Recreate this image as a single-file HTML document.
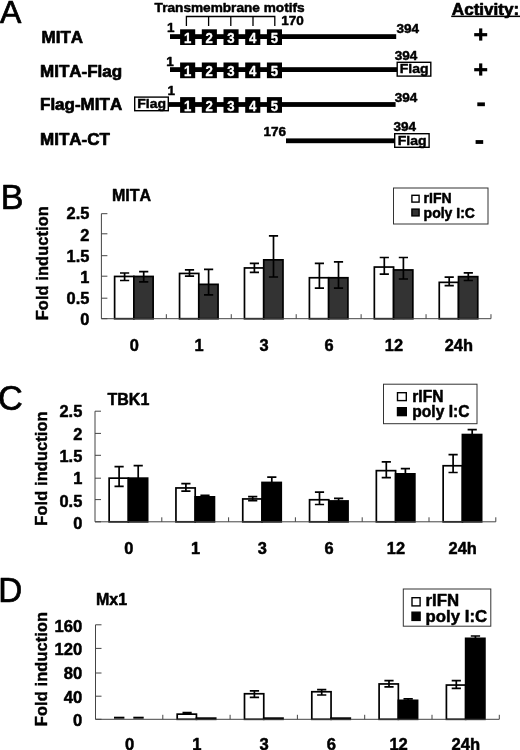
<!DOCTYPE html>
<html lang="en">
<head>
<meta charset="utf-8">
<title>MITA constructs and fold induction</title>
<style>
html,body{margin:0;padding:0;background:#fff;}
body{width:520px;height:750px;overflow:hidden;}
svg{display:block;font-family:"Liberation Sans", Arial, Helvetica, sans-serif;filter:blur(0.35px);}
text{font-family:"Liberation Sans", Arial, Helvetica, sans-serif;}
</style>
</head>
<body>
<svg width="520" height="750" viewBox="0 0 520 750">
<rect x="0" y="0" width="520" height="750" fill="#fff"/>
<text transform="translate(0.1 23.0) scale(1.0 1)" font-size="32" font-weight="normal" fill="#000" stroke="#000" stroke-width="0.7" stroke-linejoin="round">A</text>
<text x="451.8" y="14.7" font-size="17.1" font-weight="bold" fill="#000" stroke="#000" stroke-width="0.7" stroke-linejoin="round">Activity:</text>
<rect x="451.2" y="15.6" width="68.8" height="1.5" fill="#000"/>
<text x="154.6" y="12.0" font-size="13.2" font-weight="bold" text-anchor="start" fill="#000" stroke="#000" stroke-width="0.5" stroke-linejoin="round" textLength="150" lengthAdjust="spacingAndGlyphs">Transmembrane motifs</text>
<path d="M186.4 26 V16.5 H274.8 V26 M208.6 16.5 V26 M230.8 16.5 V26 M253 16.5 V26" fill="none" stroke="#000" stroke-width="1.3"/>
<text x="281.2" y="24.6" font-size="13.5" font-weight="bold" text-anchor="start" fill="#000" stroke="#000" stroke-width="0.5" stroke-linejoin="round" >170</text>
<text x="41.5" y="43.4" font-size="17" font-weight="bold" fill="#000" stroke="#000" stroke-width="0.7" stroke-linejoin="round" style="font-kerning:none">MITA</text>
<text x="40" y="76.5" font-size="17" font-weight="bold" fill="#000" stroke="#000" stroke-width="0.7" stroke-linejoin="round" style="font-kerning:none">MITA-Flag</text>
<text x="40" y="109.6" font-size="17" font-weight="bold" fill="#000" stroke="#000" stroke-width="0.7" stroke-linejoin="round" style="font-kerning:none">Flag-MITA</text>
<text x="40" y="144.6" font-size="17" font-weight="bold" fill="#000" stroke="#000" stroke-width="0.7" stroke-linejoin="round" style="font-kerning:none">MITA-CT</text>
<rect x="170" y="34.2" width="226.2" height="4.8" fill="#000"/>
<rect x="180.1" y="29.3" width="15.1" height="15.7" fill="#000"/>
<text transform="translate(187.6 43.1) scale(1.0 1.13)" font-size="13.2" font-weight="bold" text-anchor="middle" fill="#fff" stroke="#fff" stroke-width="0.3" stroke-linejoin="round">1</text>
<rect x="201.8" y="29.3" width="15.1" height="15.7" fill="#000"/>
<text transform="translate(209.3 43.1) scale(1.0 1.13)" font-size="13.2" font-weight="bold" text-anchor="middle" fill="#fff" stroke="#fff" stroke-width="0.3" stroke-linejoin="round">2</text>
<rect x="223.5" y="29.3" width="15.1" height="15.7" fill="#000"/>
<text transform="translate(231.0 43.1) scale(1.0 1.13)" font-size="13.2" font-weight="bold" text-anchor="middle" fill="#fff" stroke="#fff" stroke-width="0.3" stroke-linejoin="round">3</text>
<rect x="245.2" y="29.3" width="15.1" height="15.7" fill="#000"/>
<text transform="translate(252.7 43.1) scale(1.0 1.13)" font-size="13.2" font-weight="bold" text-anchor="middle" fill="#fff" stroke="#fff" stroke-width="0.3" stroke-linejoin="round">4</text>
<rect x="266.9" y="29.3" width="15.1" height="15.7" fill="#000"/>
<text transform="translate(274.4 43.1) scale(1.0 1.13)" font-size="13.2" font-weight="bold" text-anchor="middle" fill="#fff" stroke="#fff" stroke-width="0.3" stroke-linejoin="round">5</text>
<text x="167" y="32.4" font-size="13.5" font-weight="bold" text-anchor="start" fill="#000" stroke="#000" stroke-width="0.5" stroke-linejoin="round" >1</text>
<text x="396.5" y="32.8" font-size="13.5" font-weight="bold" text-anchor="start" fill="#000" stroke="#000" stroke-width="0.5" stroke-linejoin="round" >394</text>
<rect x="170" y="67.2" width="227.0" height="4.8" fill="#000"/>
<rect x="180.1" y="62.5" width="15.1" height="15.7" fill="#000"/>
<text transform="translate(187.6 76.3) scale(1.0 1.13)" font-size="13.2" font-weight="bold" text-anchor="middle" fill="#fff" stroke="#fff" stroke-width="0.3" stroke-linejoin="round">1</text>
<rect x="201.8" y="62.5" width="15.1" height="15.7" fill="#000"/>
<text transform="translate(209.3 76.3) scale(1.0 1.13)" font-size="13.2" font-weight="bold" text-anchor="middle" fill="#fff" stroke="#fff" stroke-width="0.3" stroke-linejoin="round">2</text>
<rect x="223.5" y="62.5" width="15.1" height="15.7" fill="#000"/>
<text transform="translate(231.0 76.3) scale(1.0 1.13)" font-size="13.2" font-weight="bold" text-anchor="middle" fill="#fff" stroke="#fff" stroke-width="0.3" stroke-linejoin="round">3</text>
<rect x="245.2" y="62.5" width="15.1" height="15.7" fill="#000"/>
<text transform="translate(252.7 76.3) scale(1.0 1.13)" font-size="13.2" font-weight="bold" text-anchor="middle" fill="#fff" stroke="#fff" stroke-width="0.3" stroke-linejoin="round">4</text>
<rect x="266.9" y="62.5" width="15.1" height="15.7" fill="#000"/>
<text transform="translate(274.4 76.3) scale(1.0 1.13)" font-size="13.2" font-weight="bold" text-anchor="middle" fill="#fff" stroke="#fff" stroke-width="0.3" stroke-linejoin="round">5</text>
<text x="166.2" y="65.8" font-size="13.5" font-weight="bold" text-anchor="start" fill="#000" stroke="#000" stroke-width="0.5" stroke-linejoin="round" >1</text>
<text x="394.8" y="59.8" font-size="13.5" font-weight="bold" text-anchor="start" fill="#000" stroke="#000" stroke-width="0.5" stroke-linejoin="round" >394</text>
<rect x="397.2" y="62.300000000000004" width="33.6" height="13.799999999999999" fill="#fff" stroke="#000" stroke-width="1.4"/>
<text transform="translate(414.2 73.4) scale(1.04 1)" font-size="13.5" font-weight="bold" text-anchor="middle" fill="#000" stroke="#000" stroke-width="0.45">Flag</text>
<rect x="168.5" y="102.1" width="227.1" height="4.8" fill="#000"/>
<rect x="180.1" y="97.1" width="15.1" height="15.7" fill="#000"/>
<text transform="translate(187.6 110.9) scale(1.0 1.13)" font-size="13.2" font-weight="bold" text-anchor="middle" fill="#fff" stroke="#fff" stroke-width="0.3" stroke-linejoin="round">1</text>
<rect x="201.8" y="97.1" width="15.1" height="15.7" fill="#000"/>
<text transform="translate(209.3 110.9) scale(1.0 1.13)" font-size="13.2" font-weight="bold" text-anchor="middle" fill="#fff" stroke="#fff" stroke-width="0.3" stroke-linejoin="round">2</text>
<rect x="223.5" y="97.1" width="15.1" height="15.7" fill="#000"/>
<text transform="translate(231.0 110.9) scale(1.0 1.13)" font-size="13.2" font-weight="bold" text-anchor="middle" fill="#fff" stroke="#fff" stroke-width="0.3" stroke-linejoin="round">3</text>
<rect x="245.2" y="97.1" width="15.1" height="15.7" fill="#000"/>
<text transform="translate(252.7 110.9) scale(1.0 1.13)" font-size="13.2" font-weight="bold" text-anchor="middle" fill="#fff" stroke="#fff" stroke-width="0.3" stroke-linejoin="round">4</text>
<rect x="266.9" y="97.1" width="15.1" height="15.7" fill="#000"/>
<text transform="translate(274.4 110.9) scale(1.0 1.13)" font-size="13.2" font-weight="bold" text-anchor="middle" fill="#fff" stroke="#fff" stroke-width="0.3" stroke-linejoin="round">5</text>
<text x="167.6" y="95.2" font-size="13.5" font-weight="bold" text-anchor="start" fill="#000" stroke="#000" stroke-width="0.5" stroke-linejoin="round" >1</text>
<text x="394.8" y="101.5" font-size="13.5" font-weight="bold" text-anchor="start" fill="#000" stroke="#000" stroke-width="0.5" stroke-linejoin="round" >394</text>
<rect x="134.7" y="97.10000000000001" width="33.6" height="13.6" fill="#fff" stroke="#000" stroke-width="1.4"/>
<text transform="translate(151.7 108.0) scale(1.04 1)" font-size="13.5" font-weight="bold" text-anchor="middle" fill="#000" stroke="#000" stroke-width="0.45">Flag</text>
<rect x="286" y="138.4" width="109.0" height="4.8" fill="#000"/>
<text x="263.6" y="136" font-size="13.5" font-weight="bold" text-anchor="start" fill="#000" stroke="#000" stroke-width="0.5" stroke-linejoin="round" >176</text>
<text x="393.5" y="131.2" font-size="13.5" font-weight="bold" text-anchor="start" fill="#000" stroke="#000" stroke-width="0.5" stroke-linejoin="round" >394</text>
<rect x="394.7" y="133.7" width="34.4" height="13.6" fill="#fff" stroke="#000" stroke-width="1.4"/>
<text transform="translate(412.1 144.6) scale(1.04 1)" font-size="13.5" font-weight="bold" text-anchor="middle" fill="#000" stroke="#000" stroke-width="0.45">Flag</text>
<rect x="474.2" y="33.1" width="13" height="3.2" fill="#000"/>
<rect x="479.09999999999997" y="28.4" width="3.2" height="12.2" fill="#000"/>
<rect x="474.2" y="68.10000000000001" width="13" height="3.2" fill="#000"/>
<rect x="479.09999999999997" y="63.4" width="3.2" height="12.2" fill="#000"/>
<rect x="477.3" y="102.4" width="7.6" height="3.8" fill="#000"/>
<rect x="475.6" y="140.1" width="7.6" height="3.8" fill="#000"/>
<text transform="translate(0.8 208.6) scale(0.985 1)" font-size="34.6" font-weight="normal" fill="#000" stroke="#000" stroke-width="0.7" stroke-linejoin="round">B</text>
<text x="112" y="201.1" font-size="16" font-weight="bold" text-anchor="start" fill="#000" stroke="#000" stroke-width="0.5" stroke-linejoin="round" style="font-kerning:none">MITA</text>
<rect x="114.62" y="276.45" width="19.25" height="42.25" fill="#fff" stroke="#000" stroke-width="1.7"/>
<rect x="133.87" y="276.45" width="19.25" height="42.25" fill="#333" stroke="#000" stroke-width="1.7"/>
<path d="M120.0 273.0 H129.2 M120.0 280.5 H129.2 M124.6 273.0 V280.5" stroke="#000" stroke-width="1.7" fill="none"/>
<path d="M139.1 271.6 H148.3 M139.1 281.9 H148.3 M143.7 271.6 V281.9" stroke="#000" stroke-width="1.7" fill="none"/>
<rect x="179.55" y="273.45" width="19.25" height="45.25" fill="#fff" stroke="#000" stroke-width="1.7"/>
<rect x="198.80" y="284.35" width="19.25" height="34.35" fill="#333" stroke="#000" stroke-width="1.7"/>
<path d="M184.9 269.9 H194.1 M184.9 276.1 H194.1 M189.5 269.9 V276.1" stroke="#000" stroke-width="1.7" fill="none"/>
<path d="M204.0 269.3 H213.2 M204.0 294.9 H213.2 M208.6 269.3 V294.9" stroke="#000" stroke-width="1.7" fill="none"/>
<rect x="244.48" y="267.95" width="19.25" height="50.75" fill="#fff" stroke="#000" stroke-width="1.7"/>
<rect x="263.73" y="259.85" width="19.25" height="58.85" fill="#333" stroke="#000" stroke-width="1.7"/>
<path d="M249.8 263.3 H259.0 M249.8 272.4 H259.0 M254.4 263.3 V272.4" stroke="#000" stroke-width="1.7" fill="none"/>
<path d="M268.9 235.9 H278.1 M268.9 277.0 H278.1 M273.5 235.9 V277.0" stroke="#000" stroke-width="1.7" fill="none"/>
<rect x="309.41" y="277.75" width="19.25" height="40.95" fill="#fff" stroke="#000" stroke-width="1.7"/>
<rect x="328.66" y="277.75" width="19.25" height="40.95" fill="#333" stroke="#000" stroke-width="1.7"/>
<path d="M314.8 263.3 H324.0 M314.8 288.2 H324.0 M319.4 263.3 V288.2" stroke="#000" stroke-width="1.7" fill="none"/>
<path d="M333.9 261.8 H343.1 M333.9 288.2 H343.1 M338.5 261.8 V288.2" stroke="#000" stroke-width="1.7" fill="none"/>
<rect x="374.34" y="267.05" width="19.25" height="51.65" fill="#fff" stroke="#000" stroke-width="1.7"/>
<rect x="393.59" y="269.95" width="19.25" height="48.75" fill="#333" stroke="#000" stroke-width="1.7"/>
<path d="M379.7 257.5 H388.9 M379.7 274.1 H388.9 M384.3 257.5 V274.1" stroke="#000" stroke-width="1.7" fill="none"/>
<path d="M398.8 257.5 H408.0 M398.8 279.0 H408.0 M403.4 257.5 V279.0" stroke="#000" stroke-width="1.7" fill="none"/>
<rect x="439.26" y="282.35" width="19.25" height="36.35" fill="#fff" stroke="#000" stroke-width="1.7"/>
<rect x="458.51" y="276.65" width="19.25" height="42.05" fill="#333" stroke="#000" stroke-width="1.7"/>
<path d="M444.6 277.1 H453.8 M444.6 285.7 H453.8 M449.2 277.1 V285.7" stroke="#000" stroke-width="1.7" fill="none"/>
<path d="M463.7 272.8 H472.9 M463.7 280.5 H472.9 M468.3 272.8 V280.5" stroke="#000" stroke-width="1.7" fill="none"/>
<path d="M101.4 213.7 V318.7 H490.98 M101.4 213.70 h6 M101.4 233.80 h6 M101.4 255.70 h6 M101.4 276.20 h6 M101.4 298.20 h6 M101.4 318.70 h6 M166.33 318.7 v-4.5 M231.26 318.7 v-4.5 M296.19 318.7 v-4.5 M361.12 318.7 v-4.5 M426.05 318.7 v-4.5 M490.98 318.7 v-4.5" fill="none" stroke="#444" stroke-width="1"/>
<text transform="translate(89.4 219.3) scale(1.0 1.04)" font-size="16.4" font-weight="bold" text-anchor="end" fill="#000" stroke="#000" stroke-width="0.5" stroke-linejoin="round">2.5</text>
<text transform="translate(89.4 240.5) scale(1.0 1.04)" font-size="16.4" font-weight="bold" text-anchor="end" fill="#000" stroke="#000" stroke-width="0.5" stroke-linejoin="round">2</text>
<text transform="translate(89.4 261.7) scale(1.0 1.04)" font-size="16.4" font-weight="bold" text-anchor="end" fill="#000" stroke="#000" stroke-width="0.5" stroke-linejoin="round">1.5</text>
<text transform="translate(89.4 282.9) scale(1.0 1.04)" font-size="16.4" font-weight="bold" text-anchor="end" fill="#000" stroke="#000" stroke-width="0.5" stroke-linejoin="round">1</text>
<text transform="translate(89.4 304.1) scale(1.0 1.04)" font-size="16.4" font-weight="bold" text-anchor="end" fill="#000" stroke="#000" stroke-width="0.5" stroke-linejoin="round">0.5</text>
<text transform="translate(89.4 325.3) scale(1.0 1.04)" font-size="16.4" font-weight="bold" text-anchor="end" fill="#000" stroke="#000" stroke-width="0.5" stroke-linejoin="round">0</text>
<text transform="translate(48.3 263.2) rotate(-90)" font-size="16.4" font-weight="bold" text-anchor="middle" letter-spacing="0.1" fill="#000" stroke="#000" stroke-width="0.45">Fold induction</text>
<text transform="translate(134.2 351.0) scale(1.0 1.04)" font-size="16.4" font-weight="bold" text-anchor="middle" fill="#000" stroke="#000" stroke-width="0.5" stroke-linejoin="round">0</text>
<text transform="translate(199.1 351.0) scale(1.0 1.04)" font-size="16.4" font-weight="bold" text-anchor="middle" fill="#000" stroke="#000" stroke-width="0.5" stroke-linejoin="round">1</text>
<text transform="translate(264.0 351.0) scale(1.0 1.04)" font-size="16.4" font-weight="bold" text-anchor="middle" fill="#000" stroke="#000" stroke-width="0.5" stroke-linejoin="round">3</text>
<text transform="translate(329.0 351.0) scale(1.0 1.04)" font-size="16.4" font-weight="bold" text-anchor="middle" fill="#000" stroke="#000" stroke-width="0.5" stroke-linejoin="round">6</text>
<text transform="translate(393.9 351.0) scale(1.0 1.04)" font-size="16.4" font-weight="bold" text-anchor="middle" fill="#000" stroke="#000" stroke-width="0.5" stroke-linejoin="round">12</text>
<text transform="translate(458.8 351.0) scale(1.0 1.04)" font-size="16.4" font-weight="bold" text-anchor="middle" fill="#000" stroke="#000" stroke-width="0.5" stroke-linejoin="round">24h</text>
<rect x="393.5" y="188" width="94.5" height="36" fill="#fff" stroke="#333" stroke-width="1"/>
<rect x="411.9" y="195.29999999999998" width="7.199999999999999" height="6.799999999999999" fill="#fff" stroke="#000" stroke-width="1.4"/>
<rect x="411.9" y="209.1" width="7.199999999999999" height="6.799999999999999" fill="#333" stroke="#000" stroke-width="1.4"/>
<text x="423.6" y="203.2" font-size="14" font-weight="bold" text-anchor="start" fill="#000" stroke="#000" stroke-width="0.5" stroke-linejoin="round" >rIFN</text>
<text x="423.6" y="217.7" font-size="14" font-weight="bold" text-anchor="start" fill="#000" stroke="#000" stroke-width="0.5" stroke-linejoin="round" >poly I:C</text>
<text transform="translate(-2.0 410.0) scale(0.97 1)" font-size="35.4" font-weight="normal" fill="#000" stroke="#000" stroke-width="0.7" stroke-linejoin="round">C</text>
<text x="107.5" y="405.3" font-size="16" font-weight="bold" text-anchor="start" fill="#000" stroke="#000" stroke-width="0.5" stroke-linejoin="round" style="font-kerning:none">TBK1</text>
<rect x="109.15" y="478.15" width="19.25" height="43.65" fill="#fff" stroke="#000" stroke-width="1.7"/>
<rect x="128.40" y="478.15" width="19.25" height="43.65" fill="#000" stroke="#000" stroke-width="1.7"/>
<path d="M114.5 466.6 H123.7 M114.5 486.3 H123.7 M119.1 466.6 V486.3" stroke="#000" stroke-width="1.7" fill="none"/>
<path d="M133.6 465.7 H142.8 M138.2 465.7 V478.4" stroke="#000" stroke-width="1.7" fill="none"/>
<rect x="175.95" y="487.95" width="19.25" height="33.85" fill="#fff" stroke="#000" stroke-width="1.7"/>
<rect x="195.20" y="496.85" width="19.25" height="24.95" fill="#000" stroke="#000" stroke-width="1.7"/>
<path d="M181.3 483.6 H190.5 M181.3 491.2 H190.5 M185.9 483.6 V491.2" stroke="#000" stroke-width="1.7" fill="none"/>
<path d="M200.4 495.4 H209.6 M205.0 495.4 V497.1" stroke="#000" stroke-width="1.7" fill="none"/>
<rect x="242.75" y="498.95" width="19.25" height="22.85" fill="#fff" stroke="#000" stroke-width="1.7"/>
<rect x="262.00" y="482.45" width="19.25" height="39.35" fill="#000" stroke="#000" stroke-width="1.7"/>
<path d="M248.1 496.6 H257.3 M248.1 500.7 H257.3 M252.7 496.6 V500.7" stroke="#000" stroke-width="1.7" fill="none"/>
<path d="M267.2 477.2 H276.4 M271.8 477.2 V482.7" stroke="#000" stroke-width="1.7" fill="none"/>
<rect x="309.55" y="499.75" width="19.25" height="22.05" fill="#fff" stroke="#000" stroke-width="1.7"/>
<rect x="328.80" y="500.95" width="19.25" height="20.85" fill="#000" stroke="#000" stroke-width="1.7"/>
<path d="M314.9 492.2 H324.1 M314.9 504.5 H324.1 M319.5 492.2 V504.5" stroke="#000" stroke-width="1.7" fill="none"/>
<path d="M334.0 498.3 H343.2 M338.6 498.3 V501.2" stroke="#000" stroke-width="1.7" fill="none"/>
<rect x="376.35" y="470.65" width="19.25" height="51.15" fill="#fff" stroke="#000" stroke-width="1.7"/>
<rect x="395.60" y="473.85" width="19.25" height="47.95" fill="#000" stroke="#000" stroke-width="1.7"/>
<path d="M381.7 461.9 H390.9 M381.7 477.7 H390.9 M386.3 461.9 V477.7" stroke="#000" stroke-width="1.7" fill="none"/>
<path d="M400.8 468.6 H410.0 M405.4 468.6 V474.1" stroke="#000" stroke-width="1.7" fill="none"/>
<rect x="443.15" y="465.75" width="19.25" height="56.05" fill="#fff" stroke="#000" stroke-width="1.7"/>
<rect x="462.40" y="434.55" width="19.25" height="87.25" fill="#000" stroke="#000" stroke-width="1.7"/>
<path d="M448.5 454.7 H457.7 M448.5 472.5 H457.7 M453.1 454.7 V472.5" stroke="#000" stroke-width="1.7" fill="none"/>
<path d="M467.6 429.6 H476.8 M472.2 429.6 V434.8" stroke="#000" stroke-width="1.7" fill="none"/>
<path d="M95.0 411.2 V521.8 H495.79999999999995 M95.0 411.20 h6 M95.0 433.40 h6 M95.0 455.30 h6 M95.0 478.20 h6 M95.0 499.60 h6 M95.0 521.80 h6 M161.80 521.8 v-4.5 M228.60 521.8 v-4.5 M295.40 521.8 v-4.5 M362.20 521.8 v-4.5 M429.00 521.8 v-4.5 M495.80 521.8 v-4.5" fill="none" stroke="#444" stroke-width="1"/>
<text transform="translate(82.3 417.4) scale(1.0 1.04)" font-size="16.4" font-weight="bold" text-anchor="end" fill="#000" stroke="#000" stroke-width="0.5" stroke-linejoin="round">2.5</text>
<text transform="translate(82.3 439.7) scale(1.0 1.04)" font-size="16.4" font-weight="bold" text-anchor="end" fill="#000" stroke="#000" stroke-width="0.5" stroke-linejoin="round">2</text>
<text transform="translate(82.3 462.0) scale(1.0 1.04)" font-size="16.4" font-weight="bold" text-anchor="end" fill="#000" stroke="#000" stroke-width="0.5" stroke-linejoin="round">1.5</text>
<text transform="translate(82.3 484.3) scale(1.0 1.04)" font-size="16.4" font-weight="bold" text-anchor="end" fill="#000" stroke="#000" stroke-width="0.5" stroke-linejoin="round">1</text>
<text transform="translate(82.3 506.5) scale(1.0 1.04)" font-size="16.4" font-weight="bold" text-anchor="end" fill="#000" stroke="#000" stroke-width="0.5" stroke-linejoin="round">0.5</text>
<text transform="translate(82.3 528.8) scale(1.0 1.04)" font-size="16.4" font-weight="bold" text-anchor="end" fill="#000" stroke="#000" stroke-width="0.5" stroke-linejoin="round">0</text>
<text transform="translate(47.3 468.5) rotate(-90)" font-size="16.4" font-weight="bold" text-anchor="middle" letter-spacing="0.1" fill="#000" stroke="#000" stroke-width="0.45">Fold induction</text>
<text transform="translate(128.7 554.2) scale(1.0 1.04)" font-size="16.4" font-weight="bold" text-anchor="middle" fill="#000" stroke="#000" stroke-width="0.5" stroke-linejoin="round">0</text>
<text transform="translate(195.5 554.2) scale(1.0 1.04)" font-size="16.4" font-weight="bold" text-anchor="middle" fill="#000" stroke="#000" stroke-width="0.5" stroke-linejoin="round">1</text>
<text transform="translate(262.3 554.2) scale(1.0 1.04)" font-size="16.4" font-weight="bold" text-anchor="middle" fill="#000" stroke="#000" stroke-width="0.5" stroke-linejoin="round">3</text>
<text transform="translate(329.1 554.2) scale(1.0 1.04)" font-size="16.4" font-weight="bold" text-anchor="middle" fill="#000" stroke="#000" stroke-width="0.5" stroke-linejoin="round">6</text>
<text transform="translate(395.9 554.2) scale(1.0 1.04)" font-size="16.4" font-weight="bold" text-anchor="middle" fill="#000" stroke="#000" stroke-width="0.5" stroke-linejoin="round">12</text>
<text transform="translate(462.7 554.2) scale(1.0 1.04)" font-size="16.4" font-weight="bold" text-anchor="middle" fill="#000" stroke="#000" stroke-width="0.5" stroke-linejoin="round">24h</text>
<rect x="383.5" y="384.2" width="93.5" height="39.5" fill="#fff" stroke="#333" stroke-width="1"/>
<rect x="397.5" y="392.7" width="8.799999999999999" height="7.9" fill="#fff" stroke="#000" stroke-width="1.4"/>
<rect x="397.5" y="407.7" width="8.799999999999999" height="7.9" fill="#000" stroke="#000" stroke-width="1.4"/>
<text x="412.3" y="402" font-size="15.6" font-weight="bold" text-anchor="start" fill="#000" stroke="#000" stroke-width="0.5" stroke-linejoin="round" >rIFN</text>
<text x="412.3" y="417" font-size="15.6" font-weight="bold" text-anchor="start" fill="#000" stroke="#000" stroke-width="0.5" stroke-linejoin="round" >poly I:C</text>
<text transform="translate(-1.7 602.4) scale(0.955 1)" font-size="34.8" font-weight="normal" fill="#000" stroke="#000" stroke-width="0.7" stroke-linejoin="round">D</text>
<text x="96" y="604.6" font-size="16" font-weight="bold" text-anchor="start" fill="#000" stroke="#000" stroke-width="0.5" stroke-linejoin="round" style="font-kerning:none">Mx1</text>
<rect x="114.0" y="716.7" width="10.4" height="2" fill="#000"/>
<rect x="133.3" y="716.7" width="10.4" height="2" fill="#000"/>
<rect x="177.20" y="714.15" width="19.25" height="5.15" fill="#fff" stroke="#000" stroke-width="1.7"/>
<rect x="196.45" y="718.15" width="19.25" height="1.15" fill="#000" stroke="#000" stroke-width="1.7"/>
<path d="M182.5 712.6 H191.7 M182.5 714.2 H191.7 M187.1 712.6 V714.2" stroke="#000" stroke-width="1.7" fill="none"/>
<rect x="244.50" y="693.75" width="19.25" height="25.55" fill="#fff" stroke="#000" stroke-width="1.7"/>
<rect x="263.75" y="718.15" width="19.25" height="1.15" fill="#000" stroke="#000" stroke-width="1.7"/>
<path d="M249.8 690.8 H259.1 M249.8 697.3 H259.1 M254.4 690.8 V697.3" stroke="#000" stroke-width="1.7" fill="none"/>
<rect x="311.80" y="691.75" width="19.25" height="27.55" fill="#fff" stroke="#000" stroke-width="1.7"/>
<rect x="331.05" y="718.15" width="19.25" height="1.15" fill="#000" stroke="#000" stroke-width="1.7"/>
<path d="M317.1 689.7 H326.3 M317.1 695.0 H326.3 M321.7 689.7 V695.0" stroke="#000" stroke-width="1.7" fill="none"/>
<rect x="379.10" y="683.95" width="19.25" height="35.35" fill="#fff" stroke="#000" stroke-width="1.7"/>
<rect x="398.35" y="700.35" width="19.25" height="18.95" fill="#000" stroke="#000" stroke-width="1.7"/>
<path d="M384.4 680.7 H393.6 M384.4 686.9 H393.6 M389.0 680.7 V686.9" stroke="#000" stroke-width="1.7" fill="none"/>
<path d="M403.5 698.9 H412.8 M408.1 698.9 V700.6" stroke="#000" stroke-width="1.7" fill="none"/>
<rect x="446.40" y="685.05" width="19.25" height="34.25" fill="#fff" stroke="#000" stroke-width="1.7"/>
<rect x="465.65" y="638.35" width="19.25" height="80.95" fill="#000" stroke="#000" stroke-width="1.7"/>
<path d="M451.7 680.7 H460.9 M451.7 688.3 H460.9 M456.3 680.7 V688.3" stroke="#000" stroke-width="1.7" fill="none"/>
<path d="M470.8 636.0 H480.1 M475.4 636.0 V638.6" stroke="#000" stroke-width="1.7" fill="none"/>
<path d="M95.5 624.8 V719.3 H499.29999999999995 M95.5 624.80 h6 M95.5 648.40 h6 M95.5 673.00 h6 M95.5 696.20 h6 M95.5 719.30 h6 M162.80 719.3 v-4.5 M230.10 719.3 v-4.5 M297.40 719.3 v-4.5 M364.70 719.3 v-4.5 M432.00 719.3 v-4.5 M499.30 719.3 v-4.5" fill="none" stroke="#444" stroke-width="1"/>
<text transform="translate(82.3 632.0) scale(1.0 1.04)" font-size="16.6" font-weight="bold" text-anchor="end" fill="#000" stroke="#000" stroke-width="0.5" stroke-linejoin="round">160</text>
<text transform="translate(82.3 655.3) scale(1.0 1.04)" font-size="16.6" font-weight="bold" text-anchor="end" fill="#000" stroke="#000" stroke-width="0.5" stroke-linejoin="round">120</text>
<text transform="translate(82.3 679.2) scale(1.0 1.04)" font-size="16.6" font-weight="bold" text-anchor="end" fill="#000" stroke="#000" stroke-width="0.5" stroke-linejoin="round">80</text>
<text transform="translate(82.3 702.8) scale(1.0 1.04)" font-size="16.6" font-weight="bold" text-anchor="end" fill="#000" stroke="#000" stroke-width="0.5" stroke-linejoin="round">40</text>
<text transform="translate(82.3 726.2) scale(1.0 1.04)" font-size="16.6" font-weight="bold" text-anchor="end" fill="#000" stroke="#000" stroke-width="0.5" stroke-linejoin="round">0</text>
<text transform="translate(47.3 669) rotate(-90)" font-size="16.4" font-weight="bold" text-anchor="middle" letter-spacing="0.1" fill="#000" stroke="#000" stroke-width="0.45">Fold induction</text>
<text transform="translate(129.5 750.2) scale(1.0 1.04)" font-size="16.6" font-weight="bold" text-anchor="middle" fill="#000" stroke="#000" stroke-width="0.5" stroke-linejoin="round">0</text>
<text transform="translate(196.8 750.2) scale(1.0 1.04)" font-size="16.6" font-weight="bold" text-anchor="middle" fill="#000" stroke="#000" stroke-width="0.5" stroke-linejoin="round">1</text>
<text transform="translate(264.1 750.2) scale(1.0 1.04)" font-size="16.6" font-weight="bold" text-anchor="middle" fill="#000" stroke="#000" stroke-width="0.5" stroke-linejoin="round">3</text>
<text transform="translate(331.3 750.2) scale(1.0 1.04)" font-size="16.6" font-weight="bold" text-anchor="middle" fill="#000" stroke="#000" stroke-width="0.5" stroke-linejoin="round">6</text>
<text transform="translate(398.6 750.2) scale(1.0 1.04)" font-size="16.6" font-weight="bold" text-anchor="middle" fill="#000" stroke="#000" stroke-width="0.5" stroke-linejoin="round">12</text>
<text transform="translate(465.9 750.2) scale(1.0 1.04)" font-size="16.6" font-weight="bold" text-anchor="middle" fill="#000" stroke="#000" stroke-width="0.5" stroke-linejoin="round">24h</text>
<rect x="403.3" y="589" width="87.5" height="37.2" fill="#fff" stroke="#333" stroke-width="1"/>
<rect x="412.0" y="597.7" width="8.1" height="8.2" fill="#fff" stroke="#000" stroke-width="1.4"/>
<rect x="412.0" y="612.2" width="8.1" height="8.2" fill="#000" stroke="#000" stroke-width="1.4"/>
<text x="425.6" y="606.3" font-size="16.8" font-weight="bold" text-anchor="start" fill="#000" stroke="#000" stroke-width="0.5" stroke-linejoin="round" >rIFN</text>
<text x="425.6" y="622" font-size="16.8" font-weight="bold" text-anchor="start" fill="#000" stroke="#000" stroke-width="0.5" stroke-linejoin="round" >poly I:C</text>
</svg>
</body>
</html>
